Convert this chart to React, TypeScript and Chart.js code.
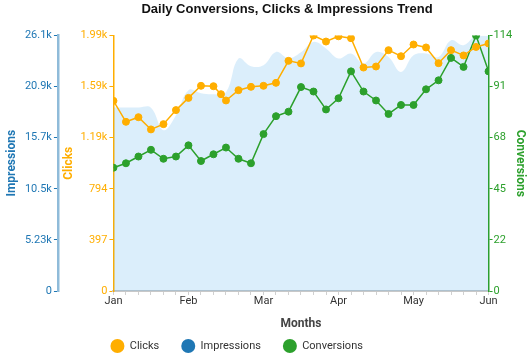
import React, { useEffect, useRef } from 'react';
import { Chart, registerables } from 'chart.js';

Chart.register(...registerables);

// ---- data ----
const monthLabels = ['Jan', 'Feb', 'Mar', 'Apr', 'May', 'Jun'];
const monthTickSteps = [0, 6, 12, 18, 24, 30];
const steps = [0, 1, 2, 3, 4, 5, 6, 7, 8, 9, 10, 11, 12, 13, 14, 15, 16, 17, 18, 19, 20, 21, 22, 23, 24, 25, 26, 27, 28, 29, 30];
const clickSteps = [0, 1, 2, 3, 4, 5, 6, 7, 8, 8.6, 9, 10, 11, 12, 13, 14, 15, 16, 17, 18, 19, 20, 21, 22, 23, 24, 25, 26, 27, 28, 29, 30];
const clicks = [1478, 1315, 1351, 1256, 1297, 1406, 1501, 1595, 1592, 1530, 1481, 1561, 1587, 1595, 1618, 1789, 1769, 1986, 1939, 1980, 1965, 1737, 1745, 1872, 1825, 1916, 1893, 1771, 1872, 1831, 1897, 1924];
const impressions = [18778, 18778, 18778, 18750, 16458, 17990, 20547, 20240, 20138, 20342, 23787, 23000, 23102, 24462, 23818, 24431, 25485, 24810, 23787, 24298, 23276, 24462, 23951, 22418, 24125, 24298, 23951, 25658, 25147, 26140, 26100];
const conversions = [55, 57, 60, 63, 59, 60, 65, 58, 61, 64, 59, 57, 70, 78, 80, 91, 89, 81, 86, 98, 89, 85, 79, 83, 83, 90, 94, 104, 100, 114, 98];

const clicksMax = 1986;
const impressionsMax = 26140;
const conversionsMax = 114;

const ORANGE = '#ffae00';
const BLUE = '#1f77b4';
const GREEN = '#2ca02c';

const fmt = (v: number) => (v >= 1000 ? (v / 1000).toPrecision(3) + 'k' : String(Math.floor(v + 1e-9)));

const titleShift = {
  id: 'titleShift',
  afterLayout(chart: any) {
    const t = chart.titleBlock;
    if (t) {
      t.left += 21;
      t.right += 21;
    }
  },
};

const bottomLegend = {
  id: 'bottomLegend',
  afterDraw(chart: any) {
    const ctx = chart.ctx;
    const area = chart.chartArea;
    ctx.save();
    ctx.font = '11px Roboto';
    ctx.textBaseline = 'middle';
    ctx.textAlign = 'left';
    let x = area.left - 3;
    const y = chart.height - 8;
    chart.data.datasets.forEach((ds: any) => {
      ctx.fillStyle = ds.pointBackgroundColor;
      ctx.beginPath();
      ctx.arc(x + 7, y, 7, 0, Math.PI * 2);
      ctx.fill();
      ctx.fillStyle = '#333';
      ctx.fillText(ds.label, x + 19.3, y);
      x += 19.3 + ctx.measureText(ds.label).width + 22;
    });
    ctx.restore();
  },
};

export default function App() {
  const ref = useRef<HTMLCanvasElement | null>(null);
  useEffect(() => {
    document.body.style.margin = '0';
    Chart.defaults.font.family = 'Roboto';
    const canvas = ref.current;
    if (!canvas) return;
    const chart = new Chart(canvas, {
      type: 'line',
      data: {
        datasets: [
          {
            label: 'Clicks',
            data: clickSteps.map((s, i) => ({ x: s, y: clicks[i] })),
            yAxisID: 'yClicks',
            borderColor: ORANGE,
            backgroundColor: ORANGE,
            pointBackgroundColor: ORANGE,
            pointBorderColor: ORANGE,
            pointRadius: 3.5,
            pointBorderWidth: 1,
            borderWidth: 1.5,
            tension: 0,
            fill: false,
            order: 1,
          },
          {
            label: 'Impressions',
            data: steps.map((s, i) => ({ x: s, y: impressions[i] })),
            yAxisID: 'yImp',
            borderColor: 'rgba(54,162,235,0.18)',
            backgroundColor: 'rgba(54,162,235,0.18)',
            pointBackgroundColor: BLUE,
            borderWidth: 0,
            pointRadius: 0,
            tension: 0.4,
            fill: 'origin',
            order: 3,
          },
          {
            label: 'Conversions',
            data: steps.map((s, i) => ({ x: s, y: conversions[i] })),
            yAxisID: 'yConv',
            borderColor: GREEN,
            backgroundColor: GREEN,
            pointBackgroundColor: GREEN,
            pointBorderColor: GREEN,
            pointRadius: 3.5,
            pointBorderWidth: 1,
            borderWidth: 1.5,
            tension: 0,
            fill: false,
            order: 2,
          },
        ] as any,
      },
      options: {
        animation: false,
        responsive: true,
        maintainAspectRatio: false,
        layout: { padding: 0 },
        plugins: {
          title: {
            display: true,
            text: 'Daily Conversions, Clicks & Impressions Trend',
            font: { family: "'Liberation Sans', Arial, sans-serif", size: 13, weight: 'bold' },
            color: '#111',
            padding: { top: 1.7, bottom: 18.2 },
          },
          legend: { display: false },
          tooltip: { enabled: false },
        },
        scales: {
          x: {
            type: 'linear',
            min: 0,
            max: 30,
            ticks: {
              stepSize: 1,
              autoSkip: false,
              maxRotation: 0,
              padding: 0,
              font: { size: 11 },
              color: '#333',
              callback: (v: any) => {
                const k = monthTickSteps.indexOf(Number(v));
                return k >= 0 ? monthLabels[k] : '';
              },
            },
            grid: { display: true, drawOnChartArea: false, drawTicks: true, tickLength: 4, tickColor: '#d0d0d0' },
            border: { color: '#c8c8c8', width: 2 },
            title: {
              display: true,
              text: 'Months',
              font: { size: 12, weight: 'bold' },
              color: '#444',
              padding: { top: 8.8, bottom: 22.6 },
            },
          },
          yImp: {
            type: 'linear',
            position: 'left',
            weight: 2,
            min: 0,
            max: impressionsMax,
            ticks: { count: 6, padding: 2, font: { size: 11 }, color: BLUE, callback: (v: any) => fmt(Number(v)) },
            grid: { display: true, drawOnChartArea: false, drawTicks: true, tickLength: 4, tickColor: BLUE },
            border: { color: 'rgba(31,119,180,0.5)', width: 2.5 },
            title: { display: true, text: 'Impressions', font: { size: 12, weight: 'bold' }, color: BLUE, padding: { top: 4.5, bottom: 4 } },
          },
          yClicks: {
            type: 'linear',
            position: 'left',
            weight: 1,
            min: 0,
            max: clicksMax,
            ticks: { count: 6, padding: 2, font: { size: 11 }, color: ORANGE, callback: (v: any) => fmt(Number(v)) },
            grid: { display: true, drawOnChartArea: false, drawTicks: true, tickLength: 4, tickColor: ORANGE },
            border: { color: ORANGE, width: 1.5 },
            title: { display: true, text: 'Clicks', font: { size: 12, weight: 'bold' }, color: ORANGE, padding: { top: 3.8, bottom: 2.3 } },
          },
          yConv: {
            type: 'linear',
            position: 'right',
            min: 0,
            max: conversionsMax,
            ticks: { count: 6, padding: 1, font: { size: 11 }, color: GREEN, callback: (v: any) => fmt(Number(v)) },
            grid: { display: true, drawOnChartArea: false, drawTicks: true, tickLength: 4, tickColor: GREEN },
            border: { color: GREEN, width: 1.5 },
            title: { display: true, text: 'Conversions', font: { size: 12, weight: 'bold' }, color: GREEN, padding: { top: 4.5, bottom: 0 } },
          },
        },
      } as any,
      plugins: [titleShift, bottomLegend],
    });
    return () => chart.destroy();
  }, []);

  return (
    <div style={{ position: 'relative', width: 532, height: 354 }}>
      <canvas ref={ref} />
    </div>
  );
}
